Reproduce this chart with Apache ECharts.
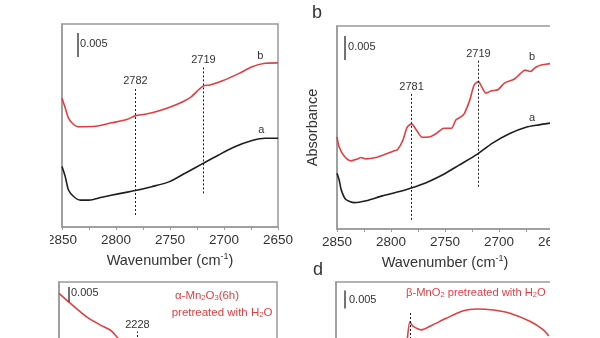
<!DOCTYPE html>
<html>
<head>
<meta charset="utf-8">
<script src="https://cdn.jsdelivr.net/npm/echarts@6/dist/echarts.min.js"></script>
<style>
  html, body { margin: 0; padding: 0; background: #fff; }
  #chart { width: 600px; height: 338px; }
</style>
</head>
<body>
<div id="chart"></div>
<script>
// ---- Spectra data: wavenumber (cm-1) and absorbance (offset, a.u.) ----

// Panel a (2850-2650 cm-1): curve b (red) and curve a (black)
const aWnB  = [2850, 2847, 2844, 2839, 2835, 2819, 2804, 2790, 2782, 2773, 2760, 2745, 2731, 2723, 2719, 2713, 2702, 2686, 2674, 2662, 2650];
const aAbsB = [0.0268, 0.0248, 0.0227, 0.0213, 0.0209, 0.0210, 0.0217, 0.0224, 0.0232, 0.0235, 0.0242, 0.0254, 0.0270, 0.0287, 0.0294, 0.0296, 0.0304, 0.0320, 0.0334, 0.0341, 0.0342];
const aWnA  = [2850, 2847, 2844, 2839, 2833, 2825, 2813, 2798, 2782, 2767, 2751, 2736, 2719, 2705, 2690, 2674, 2662, 2650];
const aAbsA = [0.0126, 0.0105, 0.0077, 0.0063, 0.0056, 0.0056, 0.0062, 0.0069, 0.0076, 0.0084, 0.0094, 0.0112, 0.0133, 0.0150, 0.0167, 0.0180, 0.0185, 0.0185];
const aPeaks = [2782, 2719];

// Panel b (2850-2650 cm-1)
const bWnB  = [2850, 2848, 2843, 2837, 2831, 2828, 2823, 2814, 2805, 2797, 2794, 2789, 2785, 2781, 2777, 2771, 2764, 2758, 2751, 2744, 2740, 2735, 2732, 2727, 2723, 2719, 2716, 2712, 2707, 2701, 2695, 2686, 2680, 2676, 2671, 2666, 2660, 2654, 2650];
const bAbsB = [0.0192, 0.0171, 0.0151, 0.0142, 0.0146, 0.0149, 0.0146, 0.0149, 0.0156, 0.0163, 0.0165, 0.0185, 0.0212, 0.0219, 0.0208, 0.0191, 0.0192, 0.0199, 0.0210, 0.0210, 0.0227, 0.0234, 0.0241, 0.0269, 0.0300, 0.0307, 0.0296, 0.0283, 0.0288, 0.0290, 0.0304, 0.0312, 0.0324, 0.0331, 0.0328, 0.0337, 0.0342, 0.0344, 0.0345];
const bWnA  = [2850, 2848, 2846, 2842, 2834, 2823, 2808, 2792, 2782, 2768, 2752, 2737, 2720, 2706, 2690, 2675, 2663, 2654, 2650];
const bAbsA = [0.0116, 0.0102, 0.0081, 0.0062, 0.0055, 0.0059, 0.0069, 0.0078, 0.0085, 0.0096, 0.0113, 0.0133, 0.0156, 0.0179, 0.0199, 0.0212, 0.0217, 0.0220, 0.0221];
const bPeaks = [2781, 2719];

// Panel c (alpha-Mn2O3, H2O pretreated) and panel d (beta-MnO2, H2O pretreated)
const cWn  = [2300, 2290, 2275, 2262, 2252, 2246, 2239];
const cAbs = [0.0639, 0.0607, 0.0561, 0.0533, 0.0514, 0.0490, 0.0467];
const cPeaks = [2228];
const dWn  = [2234, 2231.5, 2229, 2221, 2211, 2198, 2182, 2170, 2154, 2139, 2120, 2108, 2103];
const dAbs = [0.0403, 0.0453, 0.0442, 0.0431, 0.0444, 0.0463, 0.0484, 0.0489, 0.0486, 0.0477, 0.0454, 0.0431, 0.0414];
const dPeaks = [2231.5];

const topRange = [2650, 2850];
const lowRange = [2100, 2300];
const SCALE = 0.005;

// ---- Styling ----
const FONT = '"Liberation Sans", Arial, sans-serif';
const RED = '#e43d3f', INK = '#1e1e1e', AXIS = '#9a9a9a', TXT = '#333';

const pairs = (x, y) => x.map((v, i) => [v, y[i]]);

function dashed(wn, y0, y1, text) {
  return [
    { coord: [wn, y0], lineStyle: { type: [2, 2], color: INK, width: 1 } },
    { coord: [wn, y1], label: text ? { show: true, position: 'end', formatter: text, distance: 1, fontSize: 11, color: TXT, fontFamily: FONT } : { show: false } }
  ];
}
function scaleBar(wn, y0) {
  return [
    { coord: [wn, y0], lineStyle: { type: 'solid', color: '#444', width: 1.5 } },
    { coord: [wn, y0 + SCALE], label: { show: false } }
  ];
}
function tag(wn, y, text, pos) {
  return { coord: [wn, y], symbol: 'circle', symbolSize: 0,
    label: { show: true, position: pos || 'inside', distance: 0, formatter: text, fontSize: 11, color: TXT, fontFamily: FONT } };
}
const markLine = (data) => ({ silent: true, symbol: ['none', 'none'], animation: false, label: { show: false }, data });
const markPoint = (data) => ({ silent: true, symbol: 'circle', symbolSize: 0, animation: false, itemStyle: { color: 'transparent' }, data });

const grids = [
  { left: 62,  top: 24,  width: 216, height: 203 },
  { left: 337, top: 26,  width: 216, height: 203 },
  { left: 59,  top: 282, width: 218, height: 203 },
  { left: 336, top: 282, width: 216, height: 203 }
];
const yMax = [203 / 4800, 203 / 4800, 203 / 3000, 203 / 3600];

function xAxis(i, range, withLabels) {
  return {
    gridIndex: i, type: 'value', min: range[0], max: range[1], interval: 50, inverse: true,
    axisLine: { show: true, onZero: false, lineStyle: { color: AXIS, width: 1.5 } },
    axisTick: { show: true, length: 3, lineStyle: { color: AXIS, width: 1 } },
    minorTick: { show: true, splitNumber: 2, length: 3, lineStyle: { color: AXIS, width: 1 } },
    splitLine: { show: false },
    axisLabel: { show: withLabels, fontSize: 13.5, color: TXT, margin: 6, fontFamily: FONT,
      showMinLabel: true, showMaxLabel: true, formatter: v => String(v) },
    name: withLabels ? 'Wavenumber (cm{sup|-1})' : '', nameLocation: 'middle', nameGap: 24,
    nameTextStyle: { fontSize: 14.5, color: TXT, fontFamily: FONT,
      rich: { sup: { fontSize: 9, color: TXT, verticalAlign: 'bottom', padding: [0, 0, 10, 0], fontFamily: FONT } } }
  };
}
function yAxis(i, name) {
  return {
    gridIndex: i, type: 'value', min: 0, max: yMax[i],
    axisLine: { show: true, onZero: false, lineStyle: { color: AXIS, width: 1.5 } },
    axisTick: { show: false }, axisLabel: { show: false }, splitLine: { show: false },
    name: name || '', nameLocation: 'middle', nameGap: 17,
    nameTextStyle: { fontSize: 14.5, color: TXT, fontFamily: FONT }
  };
}
function curve(i, wn, abs, color, extra) {
  return Object.assign({
    type: 'line', xAxisIndex: i, yAxisIndex: i, data: pairs(wn, abs),
    showSymbol: false, smooth: 0.25, animation: false, silent: true,
    lineStyle: { color, width: 1.6 }, itemStyle: { color }
  }, extra || {});
}

const subStyle = { s: { fontSize: 7.5, fill: RED, verticalAlign: 'bottom', fontFamily: FONT } };

const option = {
  animation: false,
  backgroundColor: '#fff',
  textStyle: { fontFamily: FONT },
  grid: grids.map(g => Object.assign({ show: true, borderColor: AXIS, borderWidth: 1.5,
    backgroundColor: 'transparent', containLabel: false, outerBoundsMode: 'none' }, g)),
  xAxis: [xAxis(0, topRange, true), xAxis(1, topRange, true), xAxis(2, lowRange, false), xAxis(3, lowRange, false)],
  yAxis: [yAxis(0), yAxis(1, 'Absorbance'), yAxis(2), yAxis(3)],
  series: [
    curve(0, aWnA, aAbsA, INK, {
      markLine: markLine([scaleBar(2835.2, 0.0354)]),
      markPoint: markPoint([tag(2665.5, 0.0202, 'a'), tag(2833.3, 0.0381, '0.005', 'right')])
    }),
    curve(0, aWnB, aAbsB, RED, {
      markLine: markLine([dashed(aPeaks[0], 0.0025, 0.0290, String(aPeaks[0])), dashed(aPeaks[1], 0.0070, 0.0334, String(aPeaks[1]))]),
      markPoint: markPoint([tag(2666.4, 0.0356, 'b')])
    }),
    curve(1, bWnA, bAbsA, INK, {
      markLine: markLine([scaleBar(2843.2, 0.0352)]),
      markPoint: markPoint([tag(2669.4, 0.0231, 'a'), tag(2839.8, 0.0380, '0.005', 'right')])
    }),
    curve(1, bWnB, bAbsB, RED, {
      markLine: markLine([dashed(bPeaks[0], 0.0019, 0.0283, String(bPeaks[0])), dashed(bPeaks[1], 0.0088, 0.0351, String(bPeaks[1]))]),
      markPoint: markPoint([tag(2669.4, 0.0358, 'b')])
    }),
    curve(2, cWn, cAbs, RED, {
      markLine: markLine([scaleBar(2290.8, 0.0610), dashed(cPeaks[0], 0.0400, 0.0512, String(cPeaks[0]))]),
      markPoint: markPoint([tag(2289, 0.0640, '0.005', 'right')])
    }),
    curve(3, dWn, dAbs, RED, {
      markLine: markLine([scaleBar(2291.7, 0.0490), dashed(dPeaks[0], 0.0350, 0.0481)]),
      markPoint: markPoint([tag(2288, 0.0514, '0.005', 'right')])
    })
  ],
  graphic: [
    { type: 'text', z: 101, style: { text: 'b', x: 317, y: 13, align: 'center', verticalAlign: 'middle', fontSize: 18, fill: TXT, fontFamily: FONT } },
    { type: 'text', z: 101, style: { text: 'd', x: 318, y: 270, align: 'center', verticalAlign: 'middle', fontSize: 18, fill: TXT, fontFamily: FONT } },
    { type: 'text', z: 101, style: { text: 'α-Mn{s|2}O{s|3}(6h)', x: 207, y: 296, align: 'center', verticalAlign: 'middle',
        fontSize: 11.5, fill: RED, fontFamily: FONT, rich: subStyle } },
    { type: 'text', z: 101, style: { text: 'pretreated with H{s|2}O', x: 222, y: 312.5, align: 'center', verticalAlign: 'middle',
        fontSize: 11.5, fill: RED, fontFamily: FONT, rich: subStyle } },
    { type: 'text', z: 101, style: { text: 'β-MnO{s|2} pretreated with H{s|2}O', x: 406, y: 293, align: 'left', verticalAlign: 'middle',
        fontSize: 11.2, fill: RED, fontFamily: FONT, rich: subStyle } },
    { type: 'rect', z: 100, shape: { x: 0, y: 0, width: 50, height: 338 }, style: { fill: '#fff' } },
    { type: 'rect', z: 100, shape: { x: 550, y: 0, width: 50, height: 338 }, style: { fill: '#fff' } }
  ]
};

const chart = echarts.init(document.getElementById('chart'), null, { renderer: 'canvas' });
chart.setOption(option);
</script>
</body>
</html>
